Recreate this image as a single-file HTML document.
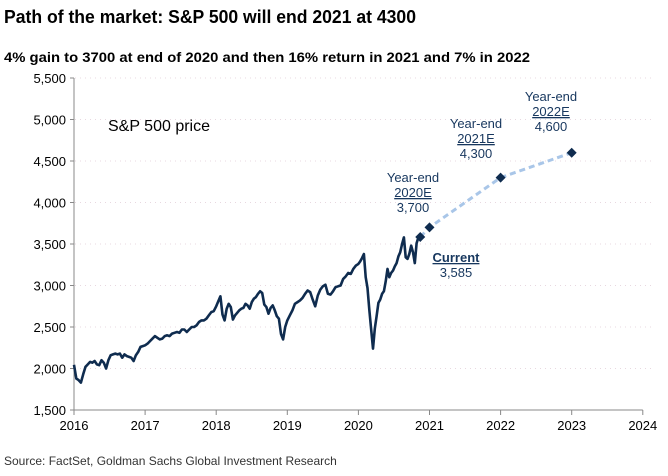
<!DOCTYPE html>
<html><head><meta charset="utf-8"><style>
body{margin:0;background:#fff;font-family:"Liberation Sans",sans-serif;}
svg{display:block}
</style></head><body>
<svg width="668" height="476" viewBox="0 0 668 476" xmlns="http://www.w3.org/2000/svg">
<text x="4" y="23" font-size="18" font-weight="bold" fill="#000" textLength="412" lengthAdjust="spacingAndGlyphs">Path of the market: S&amp;P 500 will end 2021 at 4300</text>
<text x="4" y="62" font-size="14" font-weight="bold" fill="#000" textLength="526" lengthAdjust="spacingAndGlyphs">4% gain to 3700 at end of 2020 and then 16% return in 2021 and 7% in 2022</text>
<g id="axes"></g>
<g id="series"></g>
<text x="108" y="131" font-size="16" fill="#000">S&amp;P 500 price</text>
<g font-size="13" fill="#17375e" text-anchor="middle">
<text x="413" y="182"><tspan x="413">Year-end</tspan><tspan x="413" dy="15" text-decoration="underline">2020E</tspan><tspan x="413" dy="15">3,700</tspan></text>
<text x="476" y="128"><tspan x="476">Year-end</tspan><tspan x="476" dy="15" text-decoration="underline">2021E</tspan><tspan x="476" dy="15">4,300</tspan></text>
<text x="551" y="101"><tspan x="551">Year-end</tspan><tspan x="551" dy="15" text-decoration="underline">2022E</tspan><tspan x="551" dy="15">4,600</tspan></text>
<text x="456" y="262"><tspan x="456" font-weight="bold" text-decoration="underline">Current</tspan><tspan x="456" dy="15">3,585</tspan></text>
</g>
<text x="4" y="465" font-size="12" fill="#333">Source: FactSet, Goldman Sachs Global Investment Research</text>
</svg>
<script>
const xTicks=[2016,2017,2018,2019,2020,2021,2022,2023,2024];
const yTicks=[1500,2000,2500,3000,3500,4000,4500,5000,5500];
const y2016=[2044,1880,1860,1830,1930,2020,2050,2080,2070,2090,2050,2040,2100,2070,2000,2100,2160,2170,2180,2170,2180,2130,2170,2150,2140,2130,2090,2160,2200,2260,2270];
const y2017=[2280,2300,2330,2360,2390,2370,2350,2360,2390,2400,2390,2420,2430,2440,2430,2470,2470,2440,2470,2500,2500,2520,2560,2580,2580,2600,2640,2680,2690];
const y2018=[2750,2810,2870,2650,2580,2720,2780,2740,2590,2640,2670,2700,2720,2730,2780,2760,2720,2800,2840,2860,2900,2930,2910,2770,2740,2660,2730,2760,2700,2630,2600,2416,2350,2500];
const y2019=[2580,2640,2700,2780,2800,2820,2850,2900,2940,2920,2830,2750,2880,2950,2990,3010,2900,2890,2930,2980,2990,3000,3080,3110,3150,3140,3200,3240];
const y2020=[3260,3290,3330,3380,3100,2970,2710,2480,2240,2480,2630,2790,2830,2900,2930,3050,3200,3100,3150,3180,3230,3270,3350,3400,3500,3580,3340,3320,3380,3480,3400,3270,3510,3580,3585];
const fcYears=[2020.87,2021,2022,2023];
const fcValues=[3585,3700,4300,4600];
const NS="http://www.w3.org/2000/svg";
const X=v=>74+(v-2016)*71.1;
const Y=v=>410-(v-1500)*0.083;
function mk(t,a,p){const e=document.createElementNS(NS,t);for(const k in a)e.setAttribute(k,a[k]);p.appendChild(e);return e;}
const ax=document.getElementById('axes'),se=document.getElementById('series');
yTicks.forEach(v=>{
 if(v>1500){const g=mk('line',{x1:75,x2:655,y1:Y(v),y2:Y(v),stroke:'#e8d8e0','stroke-dasharray':'1 4'},ax);
 
 }
 const t=mk('text',{x:66,y:Y(v)+5,'text-anchor':'end','font-size':13,fill:'#000'},ax);t.textContent=v.toLocaleString('en-US');
 
 
 const tk=mk('line',{x1:70,x2:74,y1:Y(v),y2:Y(v),stroke:'#888'},ax);
 
 
});
xTicks.forEach(v=>{
 const t=mk('text',{x:X(v),y:430,'text-anchor':'middle','font-size':13,fill:'#000'},ax);t.textContent=v;
 
 
 const tk=mk('line',{x1:X(v),x2:X(v),y1:410,y2:415,stroke:'#888'},ax);
 
 
});
const ya=mk('line',{x1:74,x2:74,y1:Y(5500),y2:410,stroke:'#888'},ax);


const xa=mk('line',{x1:74,x2:X(2024),y1:410,y2:410,stroke:'#888'},ax);


const pts=[];
[[2016,y2016,1],[2017,y2017,1],[2018,y2018,1],[2019,y2019,1],[2020,y2020,0.87]].forEach(([yr,arr,span])=>{
 arr.forEach((v,i)=>pts.push([yr+i*span/(arr.length-(span<1?1:0)),v]));
});
const line=mk('polyline',{points:pts.map(p=>X(p[0]).toFixed(1)+','+Y(p[1]).toFixed(1)).join(' '),fill:'none',stroke:'#0f2c4f','stroke-width':2.6,'stroke-linejoin':'round'},se);


const fl=mk('polyline',{points:fcYears.map((t,i)=>X(t)+','+Y(fcValues[i])).join(' '),fill:'none',stroke:'#a9c6e8','stroke-width':3,'stroke-dasharray':'6 4'},se);


fcYears.forEach((t,i)=>{
 const cx=X(t),cy=Y(fcValues[i]);
 const d=mk('path',{d:`M${cx} ${cy-5}L${cx+5} ${cy}L${cx} ${cy+5}L${cx-5} ${cy}Z`,fill:'#0f2c4f'},se);
 
 
});
</script>
</body></html>
